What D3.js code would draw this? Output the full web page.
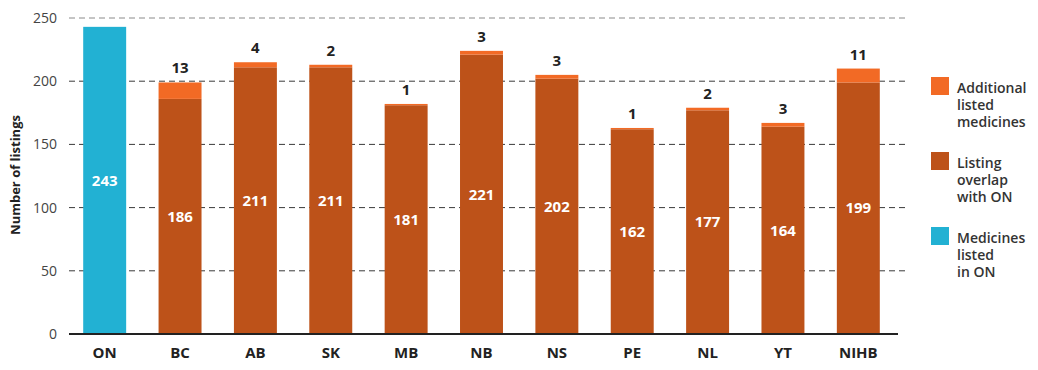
<!DOCTYPE html>
<html><head><meta charset="utf-8">
<script src="https://cdn.jsdelivr.net/npm/d3@7"></script>
<style>body{margin:0;background:#fff;}svg{display:block;}</style>
</head><body>
<script>
const categories = ["ON","BC","AB","SK","MB","NB","NS","PE","NL","YT","NIHB"];
const listedInON = [243,0,0,0,0,0,0,0,0,0,0];
const overlapWithON = [0,186,211,211,181,221,202,162,177,164,199];
const additional = [0,13,4,2,1,3,3,1,2,3,11];
const yTicks = [0,50,100,150,200,250];
const legendItems = [
  {key:"additional", lines:["Additional","listed","medicines"]},
  {key:"overlap", lines:["Listing","overlap","with ON"]},
  {key:"on", lines:["Medicines","listed","in ON"]}
];
const colors = {on:"#22b1d3", overlap:"#bd5219", additional:"#f26a25"};
const font = "'Open Sans', Lato, sans-serif";

const W=1038,H=370;
const svg=d3.select("body").append("svg").attr("width",W).attr("height",H);
const x=d3.scaleBand().domain(categories).range([67,896]).paddingInner(0.43).paddingOuter(0.215);
const y=d3.scaleLinear().domain([0,250]).range([334,18]);

svg.append("g").selectAll("line").data(yTicks.filter(d=>d>0)).join("line")
  .attr("x1",69).attr("x2",905).attr("y1",d=>y(d)).attr("y2",d=>y(d))
  .attr("stroke",d=>d===250?"#8a8a8a":"#3a3a3a").attr("stroke-width",1)
  .attr("stroke-dasharray","6,4");

svg.append("g").selectAll("text").data(yTicks).join("text")
  .attr("x",57).attr("y",d=>y(d)).attr("dy","0.35em").attr("text-anchor","end")
  .attr("font-family",font).attr("font-size",14).attr("fill","#444").text(d=>d);

const rows=categories.map((c,i)=>({c,on:listedInON[i],ov:overlapWithON[i],ad:additional[i]}));
const bw=x.bandwidth();
const g=svg.append("g");
rows.forEach(r=>{
  const x0=x(r.c);
  if(r.on>0){
    g.append("rect").attr("x",x0).attr("width",bw).attr("y",y(r.on)).attr("height",y(0)-y(r.on)).attr("fill",colors.on);
    g.append("text").attr("x",x0+bw/2).attr("y",y(r.on/2)).attr("dy","0.35em").attr("text-anchor","middle")
      .attr("font-family",font).attr("font-weight",700).attr("font-size",15).attr("fill","#fff").text(r.on);
  }
  if(r.ov>0){
    g.append("rect").attr("x",x0).attr("width",bw).attr("y",y(r.ov)).attr("height",y(0)-y(r.ov)).attr("fill",colors.overlap);
    g.append("rect").attr("x",x0).attr("width",bw).attr("y",y(r.ov+r.ad)).attr("height",y(r.ov)-y(r.ov+r.ad)).attr("fill",colors.additional);
    g.append("text").attr("x",x0+bw/2).attr("y",y(r.ov/2)).attr("dy","0.35em").attr("text-anchor","middle")
      .attr("font-family",font).attr("font-weight",700).attr("font-size",15).attr("fill","#fff").text(r.ov);
    g.append("text").attr("x",x0+bw/2).attr("y",y(r.ov+r.ad)-9).attr("text-anchor","middle")
      .attr("font-family",font).attr("font-weight",700).attr("font-size",15).attr("fill","#222").text(r.ad);
  }
});

svg.append("line").attr("x1",69).attr("x2",898).attr("y1",y(0)).attr("y2",y(0)).attr("stroke","#222").attr("stroke-width",2);

svg.append("g").selectAll("text").data(categories).join("text")
  .attr("x",d=>x(d)+bw/2).attr("y",358).attr("text-anchor","middle")
  .attr("font-family",font).attr("font-weight",700).attr("font-size",15).attr("fill","#222").text(d=>d);

svg.append("text").attr("transform","translate(20,175) rotate(-90)").attr("text-anchor","middle")
  .attr("font-family",font).attr("font-weight",700).attr("font-size",13).attr("fill","#222").text("Number of listings");

const lg=svg.append("g");
legendItems.forEach((it,i)=>{
  const top=[77,152,227][i];
  lg.append("rect").attr("x",931).attr("y",top).attr("width",18).attr("height",18).attr("fill",colors[it.key]);
  it.lines.forEach((l,j)=>{
    lg.append("text").attr("x",957).attr("y",top+16+j*17).attr("font-family",font).attr("font-weight",600)
      .attr("font-size",14).attr("fill","#333").text(l);
  });
});
</script>
</body></html>
